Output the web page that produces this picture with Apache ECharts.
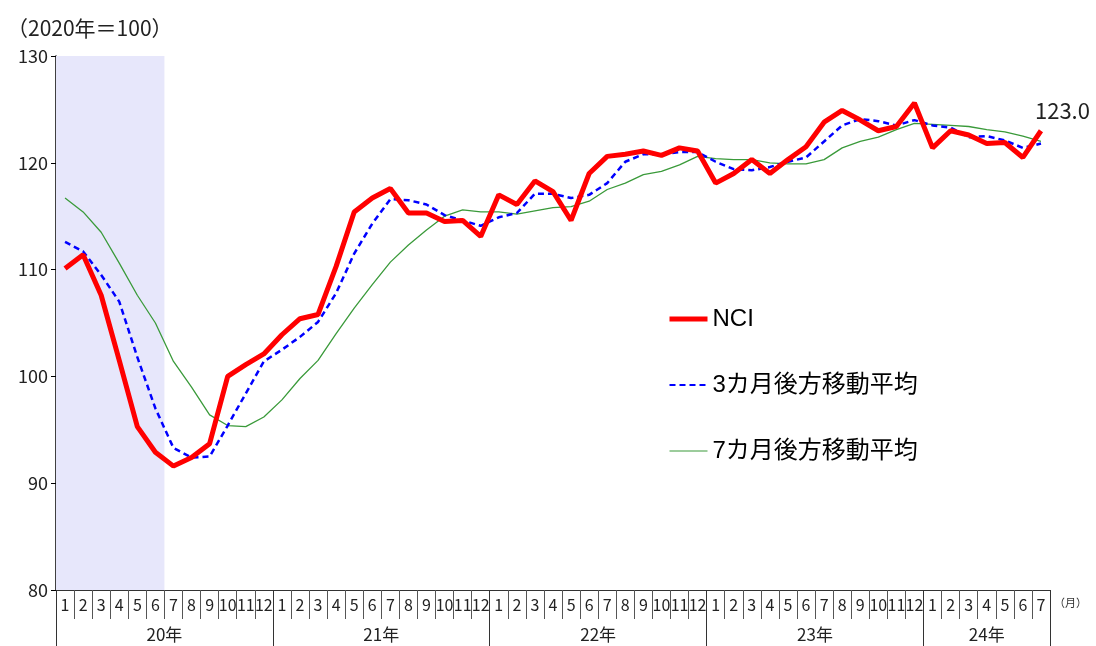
<!DOCTYPE html>
<html>
<head>
<meta charset="utf-8">
<script src="https://cdn.jsdelivr.net/npm/echarts@6/dist/echarts.min.js"></script>
<style>
  html, body { margin: 0; padding: 0; background: #fff; }
  #main { width: 1096px; height: 646px; }
</style>
</head>
<body>
<div id="main"></div>
<script>
// 年ラベルと各年の月数
var yearLabels = ['20年', '21年', '22年', '23年', '24年'];
var monthsPerYear = [12, 12, 12, 12, 7];

// NCI
var nci = [
  110.1, 111.4, 107.6, 101.5, 95.3, 92.9, 91.6, 92.4, 93.7, 100.0, 101.1, 102.1,
  103.9, 105.4, 105.8, 110.3, 115.4, 116.7, 117.6, 115.3, 115.3, 114.5, 114.6, 113.1,
  117.0, 116.1, 118.3, 117.3, 114.6, 119.0, 120.6, 120.8, 121.1, 120.7, 121.4, 121.1,
  118.1, 119.0, 120.3, 119.0, 120.3, 121.5, 123.8, 124.9, 124.0, 123.0, 123.4, 125.6,
  121.4, 123.0, 122.6, 121.8, 121.9, 120.5, 123.0
];
// 3カ月後方移動平均
var ma3 = [
  112.6, 111.7, 109.5, 107.0, 101.8, 97.0, 93.3, 92.4, 92.5, 95.4, 98.4, 101.4,
  102.5, 103.7, 105.1, 107.8, 111.5, 114.3, 116.6, 116.5, 116.1, 115.1, 114.6, 114.1,
  114.9, 115.3, 117.1, 117.1, 116.7, 117.0, 118.1, 120.1, 120.8, 120.8, 121.0, 121.0,
  120.1, 119.4, 119.3, 119.6, 120.1, 120.5, 122.0, 123.5, 124.1, 123.9, 123.5, 124.0,
  123.5, 123.3, 122.4, 122.5, 122.1, 121.4, 121.8
];
// 7カ月後方移動平均
var ma7 = [
  116.7, 115.4, 113.5, 110.6, 107.6, 105.0, 101.4, 99.0, 96.4, 95.4, 95.3, 96.2,
  97.8, 99.8, 101.5, 104.0, 106.4, 108.6, 110.7, 112.3, 113.7, 115.0, 115.6, 115.4,
  115.4, 115.2, 115.5, 115.8, 115.9, 116.4, 117.5, 118.1, 118.9, 119.2, 119.8, 120.6,
  120.4, 120.3, 120.3, 120.0, 119.9, 119.9, 120.3, 121.4, 122.0, 122.4, 123.1, 123.7,
  123.6, 123.5, 123.4, 123.1, 122.9, 122.5, 122.0
];
// 網掛け期間（月数、先頭から）
var shadeRange = [0, 6];

// 月ラベルと年の区切り
var months = [];
var yearEdges = [0];
var yearMids = [];
var total = 0;
for (var i = 0; i < yearLabels.length; i++) {
  for (var m = 1; m <= monthsPerYear[i]; m++) months.push(String(m));
  yearMids.push(total + monthsPerYear[i] / 2);
  total += monthsPerYear[i];
  yearEdges.push(total);
}

var jpFont = '"Noto Sans CJK JP", "Noto Sans", sans-serif';

var myChart = echarts.init(document.getElementById('main'));

var option = {
  backgroundColor: '#ffffff',
  animation: false,
  title: {
    text: '（2020年＝100）',
    left: 2, top: 13,
    textStyle: { fontSize: 21, fontWeight: 'normal', color: '#222', fontFamily: jpFont }
  },
  legend: {
    orient: 'vertical',
    left: 662, top: 302,
    itemWidth: 38, itemHeight: 14,
    itemGap: 42,
    itemStyle: { opacity: 0 },
    data: [
      { name: 'NCI', lineStyle: { width: 5 } },
      { name: '3カ月後方移動平均', lineStyle: { width: 2 } },
      { name: '7カ月後方移動平均', lineStyle: { width: 1.2 } }
    ],
    textStyle: { fontSize: 24, color: '#000', fontFamily: '"Liberation Sans", ' + jpFont }
  },
  grid: { left: 56, right: 46, top: 56, bottom: 56 },
  xAxis: [{
    type: 'category',
    data: months,
    boundaryGap: true,
    name: '（月）',
    nameLocation: 'end',
    nameGap: 4,
    nameTextStyle: { fontSize: 11, color: '#333', verticalAlign: 'top', padding: [7, 0, 0, 0], fontFamily: jpFont },
    axisLine: { lineStyle: { color: '#333', width: 1.2 } },
    axisTick: { show: true, interval: 0, length: 29, lineStyle: { color: '#555' } },
    axisLabel: { interval: 0, margin: 7, fontSize: 16, color: '#222', fontFamily: jpFont, hideOverlap: false },
    splitLine: { show: false }
  }, {
    type: 'value',
    position: 'bottom',
    min: 0, max: total,
    axisLine: { show: false },
    axisTick: { show: true, customValues: yearEdges, length: 56, inside: false, lineStyle: { color: '#333' } },
    axisLabel: {
      customValues: yearMids, margin: 36, fontSize: 17, color: '#222', fontFamily: jpFont,
      formatter: function (v) { return yearLabels[yearMids.indexOf(v)] || ''; }
    },
    splitLine: { show: false }
  }],
  yAxis: {
    type: 'value',
    min: 80, max: 130, interval: 10,
    axisLine: { show: true, lineStyle: { color: '#000', width: 1.5 } },
    axisTick: { show: true, length: 5, lineStyle: { color: '#000' } },
    axisLabel: { fontSize: 18, color: '#222', margin: 8, fontFamily: jpFont },
    splitLine: { show: false }
  },
  series: [{
    name: '網掛け',
    type: 'line',
    xAxisIndex: 1,
    data: [],
    silent: true,
    markArea: {
      silent: true,
      itemStyle: { color: '#e7e7fb' },
      data: [[{ xAxis: shadeRange[0] }, { xAxis: shadeRange[1] }]]
    }
  }, {
    name: '7カ月後方移動平均',
    type: 'line',
    data: ma7,
    symbol: 'none',
    lineStyle: { color: '#3a9a3a', width: 1.3 },
    itemStyle: { color: '#3a9a3a' }
  }, {
    name: '3カ月後方移動平均',
    type: 'line',
    data: ma3,
    symbol: 'none',
    lineStyle: { color: '#0000ff', width: 2.5, type: [6, 4] },
    itemStyle: { color: '#0000ff' }
  }, {
    name: 'NCI',
    type: 'line',
    data: nci,
    symbol: 'none',
    lineStyle: { color: '#ff0000', width: 5 },
    itemStyle: { color: '#ff0000' },
    endLabel: {
      show: true,
      offset: [-14, -20],
      formatter: function (p) { return p.value.toFixed(1); },
      fontSize: 22, color: '#222',
      fontFamily: '"Liberation Sans Narrow", ' + jpFont
    },
    z: 5
  }]
};

myChart.setOption(option);
</script>
</body>
</html>
